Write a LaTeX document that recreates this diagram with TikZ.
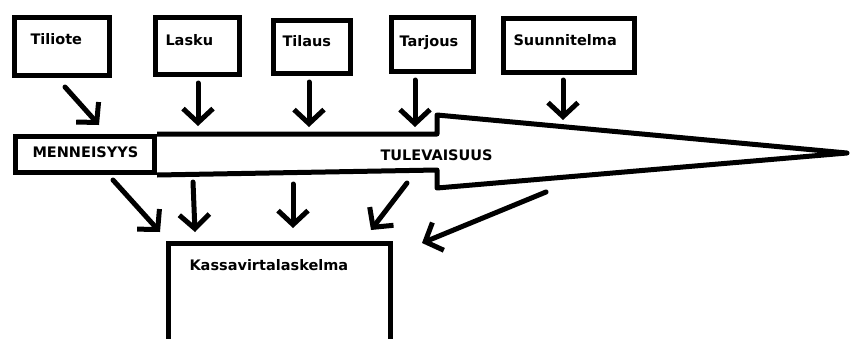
\documentclass[tikz,border=0pt]{standalone}
\usepackage{fontspec}
\setmainfont{DejaVu Sans}
\usetikzlibrary{arrows.meta}
\tikzset{every picture/.style={line width=5pt, x=1pt, y=-1pt}}
\tikzset{paperi/.style={draw, rectangle, inner sep=0pt, anchor=north west}}
\tikzset{teksti/.style={anchor=base west, inner sep=0pt, font=\bfseries\fontsize{14.5}{17}\selectfont}}
\tikzset{nuoli/.style={-{Straight Barb[length=14pt,width=30pt]}, line cap=round}}

\begin{document}
\begin{tikzpicture}
        \useasboundingbox (0,0) rectangle (850,338);
        % lahteet
        \node[paperi, minimum width=95pt, minimum height=58pt] (tiliote) at (12,15) {};
        \node[paperi, minimum width=84pt, minimum height=57pt] (lasku) at (153,15) {};
        \node[paperi, minimum width=77pt, minimum height=53pt] (tilaus) at (271,18) {};
        \node[paperi, minimum width=82pt, minimum height=54pt] (tarjous) at (389,15) {};
        \node[paperi, minimum width=131pt, minimum height=54pt] (suunnitelma) at (501,16) {};
        \node[teksti] (tiliote teksti) at (28,44) {Tiliote};
        \node[teksti] (lasku teksti) at (163,45) {Lasku};
        \node[teksti] (tilaus teksti) at (280,46) {Tilaus};
        \node[teksti] (tarjous teksti) at (397,46) {Tarjous};
        \node[teksti] (suunnitelma teksti) at (511,45) {Suunnitelma};
        % aikajana
        \node[paperi, minimum width=139pt, minimum height=36pt] (menneisyys) at (13,134) {};
        \draw[line join=round] (menneisyys.north east) -- (437,134) -- (437,115) -- (847,153)
            -- (437,188) -- (437,170) -- (menneisyys.south east);
        \node[teksti] (menneisyys teksti) at (30,157) {MENNEISYYS};
        \node[teksti] (tulevaisuus teksti) at (378,160) {TULEVAISUUS};
        % kassavirtalaskelma
        \node[paperi, minimum width=222pt, minimum height=150pt] (kassa) at (165.5,240.5) {};
        \node[teksti] (kassa teksti) at (187,270) {Kassavirtalaskelma};
        % nuolet
        \coordinate (tiliote alku) at (65,87);
        \coordinate (tiliote loppu) at (99,125);
        \coordinate (lasku alku) at (198,83);
        \coordinate (lasku loppu) at (198,126);
        \coordinate (tilaus alku) at (309,82);
        \coordinate (tilaus loppu) at (309,127);
        \coordinate (tarjous alku) at (415,80);
        \coordinate (tarjous loppu) at (415,127);
        \coordinate (suunnitelma alku) at (563,80);
        \coordinate (suunnitelma loppu) at (563,120);
        \draw[nuoli] (tiliote alku) -- (tiliote loppu);
        \draw[nuoli] (lasku alku) -- (lasku loppu);
        \draw[nuoli] (tilaus alku) -- (tilaus loppu);
        \draw[nuoli] (tarjous alku) -- (tarjous loppu);
        \draw[nuoli] (suunnitelma alku) -- (suunnitelma loppu);
        \coordinate (m1) at (113,180);
        \coordinate (k1) at (160,232);
        \coordinate (m2) at (193,182);
        \coordinate (k2) at (195,232);
        \coordinate (m3) at (293,184);
        \coordinate (k3) at (293,228);
        \coordinate (m4) at (407,183);
        \coordinate (k4) at (371,230);
        \coordinate (m5) at (546,192);
        \coordinate (k5) at (422,243);
        \draw[nuoli] (m1) -- (k1);
        \draw[nuoli] (m2) -- (k2);
        \draw[nuoli] (m3) -- (k3);
        \draw[nuoli] (m4) -- (k4);
        \draw[nuoli] (m5) -- (k5);
    \end{tikzpicture}
\end{document}
